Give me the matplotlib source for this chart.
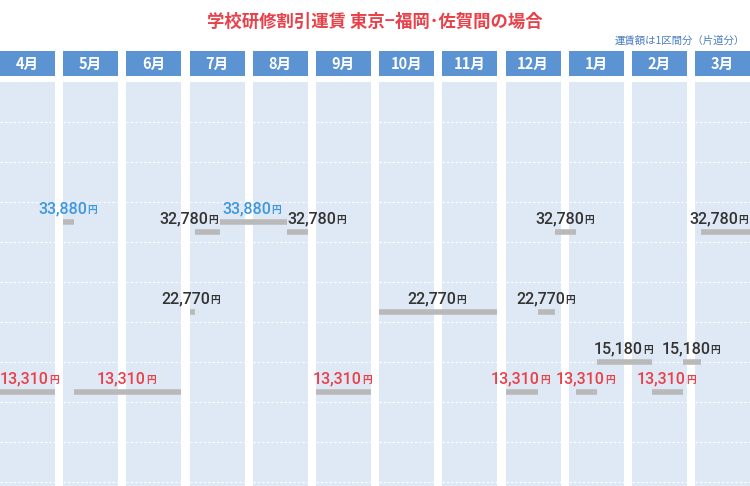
import numpy as np
import matplotlib
matplotlib.use("Agg")
import matplotlib.pyplot as plt

plt.rcParams['font.family'] = ['Noto Sans CJK JP', 'DejaVu Sans']

months = ['4月', '5月', '6月', '7月', '8月', '9月', '10月', '11月', '12月', '1月', '2月', '3月']
month_nums = [4, 5, 6, 7, 8, 9, 10, 11, 12, 1, 2, 3]
month_days = [30, 31, 30, 31, 31, 30, 31, 30, 31, 31, 28, 31]

# fare periods
seg_start = [(4, 1), (5, 1), (5, 7), (7, 1), (7, 4), (7, 18), (8, 20), (9, 1), (10, 1),
             (12, 1), (12, 19), (12, 29), (1, 5), (1, 17), (2, 11), (2, 27), (3, 4)]
seg_end = [(4, 30), (5, 6), (6, 30), (7, 3), (7, 17), (8, 19), (8, 31), (9, 30), (11, 30),
           (12, 18), (12, 28), (1, 4), (1, 16), (2, 10), (2, 26), (3, 3), (3, 31)]
fares = [13310, 33880, 13310, 22770, 32780, 33880, 32780, 13310, 22770,
         13310, 22770, 32780, 13310, 15180, 13310, 15180, 32780]
label_align = ['center'] * 17
label_align[0] = 'edge_left'
label_align[4] = 'right'
label_align[6] = 'left'
label_align[16] = 'edge_right'

fare_levels = [13310, 15180, 22770, 32780, 33880]
level_pos = [392, 362, 312, 232, 222]

PITCH, COLW = 63.2, 55

def xpos(m, d, end=False):
    i = month_nums.index(m)
    n = month_days[i]
    return PITCH * i + COLW * ((d if end else d - 1) / n)

def ypos(v):
    return np.interp(v, fare_levels, level_pos)

fig = plt.figure(figsize=(7.5, 4.86), dpi=100)
ax = fig.add_axes([0, 0, 1, 1])
ax.set_xlim(0, 750)
ax.set_ylim(486, 0)
ax.axis('off')

for i, m in enumerate(months):
    x0 = PITCH * i
    ax.add_patch(plt.Rectangle((x0, 51), COLW, 25, color='#5b93d3', lw=0))
    ax.text(x0 + COLW / 2, 64, m, color='white', ha='center', va='center',
            fontsize=10.5, fontweight='bold')
    ax.add_patch(plt.Rectangle((x0, 82), COLW, 410, color='#dfe9f5', lw=0))
    for gy in np.arange(122, 486, 40):
        ax.plot([x0, x0 + COLW], [gy, gy], color='white', lw=0.8, ls=(0, (2, 2)))

colors = {33880: '#3f97dd', 13310: '#e8414a'}
for s, e, f, al in zip(seg_start, seg_end, fares, label_align):
    x1, x2 = xpos(*s), xpos(*e, end=True)
    y = ypos(f)
    ax.plot([x1, x2], [y, y], color='#b9b9b9', lw=4, solid_capstyle='butt')
    c = colors.get(f, '#333333')
    if al == 'center':
        lx, ha = (x1 + x2) / 2 - 6, 'center'
    elif al == 'right':
        lx, ha = x2 - 12, 'right'
    elif al == 'left':
        lx, ha = x1 + 1, 'left'
    elif al == 'edge_left':
        lx, ha = 0, 'left'
    else:
        lx, ha = 738, 'right'
    t = ax.text(lx, y - 6, f"{f:,}", color=c, ha=ha, va='bottom', fontsize=11.5,
                fontweight='medium', family=['Roboto', 'DejaVu Sans'])
    ax.annotate('円', xy=(1, 0.08), xycoords=t, color=c, fontsize=7,
                fontweight='bold', va='bottom', ha='left')

fig.text(0.5, 1 - 22 / 486, '学校研修割引運賃 東京−福岡･佐賀間の場合', color='#e8414a',
         ha='center', va='center', fontsize=12.5, fontweight='bold')
fig.text(1 - 5 / 750, 1 - 40 / 486, '運賃額は1区間分（片道分）', color='#4a7fbf',
         ha='right', va='center', fontsize=7.5)

fig.savefig('out.png', dpi=100)
